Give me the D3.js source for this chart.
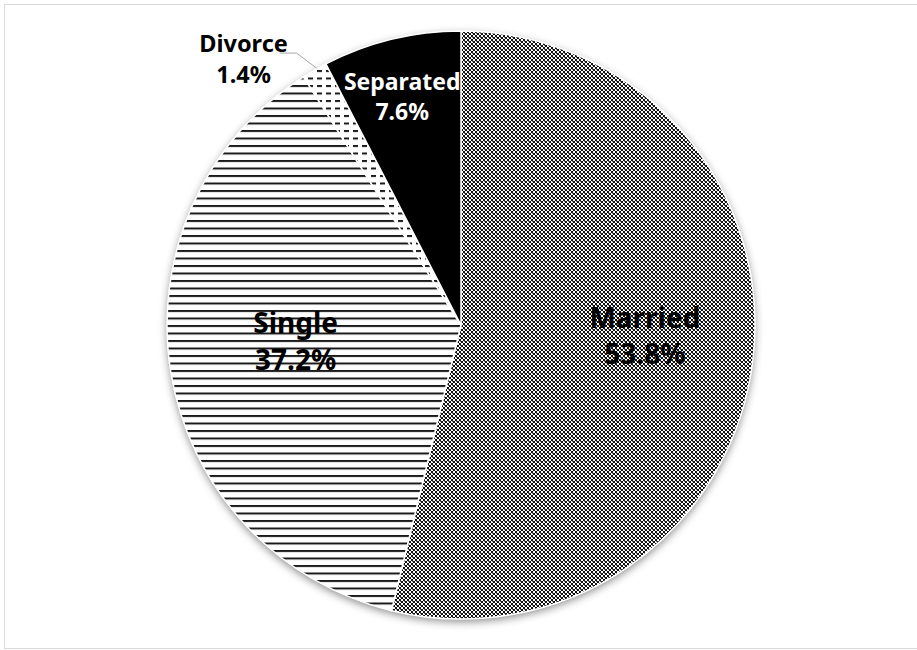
<!DOCTYPE html>
<html lang="en">
<head>
	<title>Marital status pie</title>
	<meta charset="utf-8">
	<script src="https://d3js.org/d3.v7.min.js" charset="utf-8"></script>
	<style>
		body { margin: 0; background: #fff; }
		svg { display: block; }
		.lbl { font-family: "Noto Sans", "Open Sans", sans-serif; font-weight: bold; }
	</style>
</head>
<body>
	<script>
		// chart data
		var categories = ["Married", "Single", "Divorce", "Separated"];
		var values = [53.8, 37.2, 1.4, 7.6];
		var fills = ["url(#checker)", "url(#hlines)", "url(#dashes)", "#000"];
		var textColors = ["#000", "#000", "#000", "#fff"];
		// how far out each label sits (fraction of radius); Divorce gets a leader line
		var labelPos = [0.63, 0.57, 1.0, 0.76];
		var fontSizes = [28, 28, 23.5, 23];

		var width = 917;
		var height = 650;
		var cx = 461, cy = 325, radius = 294;

		var svg = d3.select("body")
			.append("svg")
			.attr("width", width)
			.attr("height", height);

		// light frame round the chart
		svg.append("rect")
			.attr("x", 4.5).attr("y", 4.5)
			.attr("width", width).attr("height", height - 6)
			.attr("fill", "none")
			.attr("stroke", "#d9d9d9");

		var defs = svg.append("defs");

		var checker = defs.append("pattern")
			.attr("id", "checker")
			.attr("patternUnits", "userSpaceOnUse")
			.attr("width", 4).attr("height", 4);
		checker.append("rect").attr("width", 4).attr("height", 4).attr("fill", "#fff");
		checker.append("rect").attr("x", 0).attr("y", 0).attr("width", 2).attr("height", 2).attr("fill", "#111");
		checker.append("rect").attr("x", 2).attr("y", 2).attr("width", 2).attr("height", 2).attr("fill", "#111");
		checker.append("rect").attr("x", 3).attr("y", 0).attr("width", 1).attr("height", 1).attr("fill", "#777");

		var hlines = defs.append("pattern")
			.attr("id", "hlines")
			.attr("patternUnits", "userSpaceOnUse")
			.attr("width", 8).attr("height", 7.5);
		hlines.append("rect").attr("width", 8).attr("height", 7.5).attr("fill", "#fff");
		hlines.append("rect").attr("y", 0).attr("width", 8).attr("height", 2).attr("fill", "#1a1a1a");

		var dashes = defs.append("pattern")
			.attr("id", "dashes")
			.attr("patternUnits", "userSpaceOnUse")
			.attr("width", 9).attr("height", 7.5);
		dashes.append("rect").attr("width", 9).attr("height", 7.5).attr("fill", "#fff");
		dashes.append("rect").attr("y", 0).attr("width", 5).attr("height", 2).attr("fill", "#1a1a1a");

		var shadow = defs.append("filter")
			.attr("id", "shadow")
			.attr("x", "-10%").attr("y", "-10%")
			.attr("width", "120%").attr("height", "120%");
		shadow.append("feDropShadow")
			.attr("dx", 0).attr("dy", 3)
			.attr("stdDeviation", 4)
			.attr("flood-color", "#000")
			.attr("flood-opacity", 0.45);

		var g = svg.append("g")
			.attr("transform", "translate(" + cx + "," + cy + ")");

		// soft shadow under the pie
		g.append("circle")
			.attr("r", radius)
			.attr("fill", "#fff")
			.attr("filter", "url(#shadow)");

		var pie = d3.pie().sort(null).value(function(d) { return d; });
		var arcs = pie(values);

		var arc = d3.arc().innerRadius(0).outerRadius(radius);

		g.selectAll("path.slice")
			.data(arcs)
			.enter()
			.append("path")
			.attr("class", "slice")
			.attr("d", arc)
			.attr("fill", function(d, i) { return fills[i]; })
			.attr("stroke", "#fff")
			.attr("stroke-width", 1.5);

		function labelPoint(d, i) {
			var a = (d.startAngle + d.endAngle) / 2;
			var r = radius * labelPos[i];
			return [Math.sin(a) * r, -Math.cos(a) * r];
		}

		// leader line for the outside Divorce label
		var dIdx = 2;
		var edge = labelPoint(arcs[dIdx], dIdx);
		edge = [edge[0] + 2, edge[1] - 2];
		var lp = [edge[0] - 73, edge[1] - 9];
		g.append("polyline")
			.attr("points", [edge, [edge[0] - 20, edge[1] - 15], [edge[0] - 37, edge[1] - 15]]
				.map(function(p) { return p.join(","); }).join(" "))
			.attr("fill", "none")
			.attr("stroke", "#a6a6a6")
			.attr("stroke-width", 1);

		var labels = g.selectAll("text.lbl")
			.data(arcs)
			.enter()
			.append("text")
			.attr("class", "lbl")
			.attr("text-anchor", "middle")
			.attr("fill", function(d, i) { return textColors[i]; })
			.attr("font-size", function(d, i) { return fontSizes[i]; })
			.attr("transform", function(d, i) {
				var p;
				if (i === dIdx) p = lp;
				else {
					p = labelPoint(d, i);
					p = [p[0] - (i === 3 ? 6 : 0), p[1] - 11];   // Excel sits labels a bit high
				}
				return "translate(" + p[0] + "," + p[1] + ")";
			});

		// two lines centred on the anchor point
		labels.append("tspan")
			.attr("x", 0)
			.attr("dy", "-0.29em")
			.text(function(d, i) { return categories[i]; });

		labels.append("tspan")
			.attr("x", 0)
			.attr("dy", "1.3em")
			.text(function(d, i) { return d3.format(".1f")(values[i]) + "%"; });
	</script>
</body>
</html>
